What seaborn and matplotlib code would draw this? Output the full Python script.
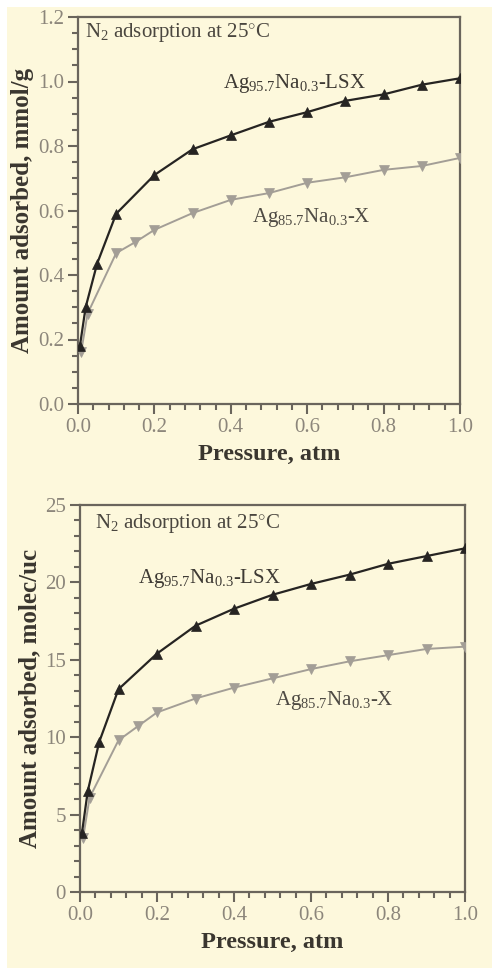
import matplotlib
matplotlib.use("Agg")
import matplotlib.pyplot as plt
import seaborn as sns
import numpy as np
import pandas as pd
from matplotlib.patches import Rectangle
from matplotlib.ticker import MultipleLocator, FormatStrFormatter

# ---------------- data ----------------
p_lsx = [0.005, 0.02, 0.05, 0.1, 0.2, 0.3, 0.4, 0.5, 0.6, 0.7, 0.8, 0.9, 1.0]
p_x = [0.008, 0.025, 0.1, 0.15, 0.2, 0.3, 0.4, 0.5, 0.6, 0.7, 0.8, 0.9, 1.0]

mmol_lsx = [0.18, 0.30, 0.435, 0.59, 0.71, 0.79, 0.833, 0.875, 0.905, 0.94, 0.96, 0.99, 1.01]
mmol_x = [0.16, 0.28, 0.468, 0.502, 0.54, 0.592, 0.633, 0.654, 0.686, 0.703, 0.726, 0.738, 0.763]

uc_lsx = [3.8, 6.5, 9.7, 13.1, 15.4, 17.2, 18.3, 19.2, 19.9, 20.5, 21.2, 21.7, 22.2]
uc_x = [3.5, 6.1, 9.8, 10.7, 11.6, 12.5, 13.2, 13.8, 14.4, 14.9, 15.3, 15.7, 15.85]

label_lsx = r"Ag$_{95.7}$Na$_{0.3}$-LSX"
label_x = r"Ag$_{85.7}$Na$_{0.3}$-X"
title_txt = r"N$_2$ adsorption at 25$^{\circ}$C"
xlabel = "Pressure, atm"
ylabel_top = "Amount adsorbed, mmol/g"
ylabel_bot = "Amount adsorbed, molec/uc"

# ---------------- style ----------------
sns.set_theme(style="ticks")
cream = "#fdf8dc"
spine_c = "#6a655c"
tick_c = "#8c867b"
lab_c = "#3a362f"
black_c = "#262422"
gray_c = "#a39e96"

plt.rcParams["font.family"] = ["Liberation Serif", "DejaVu Serif"]
plt.rcParams["mathtext.fontset"] = "custom"
plt.rcParams["mathtext.rm"] = "Liberation Serif"
plt.rcParams["mathtext.it"] = "Liberation Serif:italic"
plt.rcParams["mathtext.bf"] = "Liberation Serif:bold"
plt.rcParams["mathtext.default"] = "rm"

fig = plt.figure(figsize=(4.92, 9.68), dpi=100, facecolor="white")
fig.patches.append(Rectangle((7 / 492, 0), 1 - 7 / 492, 1 - 7 / 968,
                             transform=fig.transFigure, facecolor=cream,
                             edgecolor="none", zorder=-10))

ax1 = fig.add_axes([78 / 492, 1 - 404 / 968, 382 / 492, 387 / 968])
ax2 = fig.add_axes([80 / 492, 1 - 892 / 968, 385 / 492, 387 / 968])

df_top_lsx = pd.DataFrame({"p": p_lsx, "v": mmol_lsx})
df_top_x = pd.DataFrame({"p": p_x, "v": mmol_x})
df_bot_lsx = pd.DataFrame({"p": p_lsx, "v": uc_lsx})
df_bot_x = pd.DataFrame({"p": p_x, "v": uc_x})


def draw(ax, d_lsx, d_x, ymax, ymajor, yminor, yfmt, ylab, ann):
    ax.set_facecolor(cream)
    sns.lineplot(data=d_x, x="p", y="v", ax=ax, color=gray_c, lw=1.4,
                 marker="v", markersize=7.5, markeredgecolor=gray_c,
                 markeredgewidth=0.5, sort=False, zorder=3)
    sns.lineplot(data=d_lsx, x="p", y="v", ax=ax, color=black_c, lw=1.6,
                 marker="^", markersize=7.5, markeredgecolor=black_c,
                 markeredgewidth=0.5, sort=False, zorder=4)
    ax.set_xlim(0, 1.0)
    ax.set_ylim(0, ymax)
    ax.xaxis.set_major_locator(MultipleLocator(0.2))
    ax.xaxis.set_minor_locator(MultipleLocator(0.04))
    ax.yaxis.set_major_locator(MultipleLocator(ymajor))
    ax.yaxis.set_minor_locator(MultipleLocator(yminor))
    ax.xaxis.set_major_formatter(FormatStrFormatter("%.1f"))
    ax.yaxis.set_major_formatter(FormatStrFormatter(yfmt))
    for s in ax.spines.values():
        s.set_color(spine_c)
        s.set_linewidth(1.6)
    ax.tick_params(which="major", direction="out", length=7, width=1.5,
                   color=spine_c, labelcolor=tick_c, labelsize=15, pad=3,
                   top=False, right=False)
    ax.tick_params(which="minor", direction="out", length=4.5, width=1.5,
                   color=spine_c, top=False, right=False)
    ax.set_xlabel(xlabel, fontsize=17.5, fontweight="bold", color=lab_c, labelpad=5)
    ax.set_ylabel(ylab, fontsize=18, fontweight="bold", color=lab_c, labelpad=3)
    ax.text(ann[0][0], ann[0][1], title_txt, fontsize=15, color="#4a463f")
    ax.text(ann[1][0], ann[1][1], label_lsx, fontsize=15, color="#3e3a34")
    ax.text(ann[2][0], ann[2][1], label_x, fontsize=15, color="#4e4a43")


draw(ax1, df_top_lsx, df_top_x, 1.2, 0.2, 0.05, "%.1f", ylabel_top,
     [(0.018, 1.138), (0.38, 0.98), (0.455, 0.565)])
draw(ax2, df_bot_lsx, df_bot_x, 25, 5, 1, "%d", ylabel_bot,
     [(0.039, 23.5), (0.15, 19.96), (0.506, 12.1)])

fig.savefig("out.png", dpi=100, facecolor="white")
